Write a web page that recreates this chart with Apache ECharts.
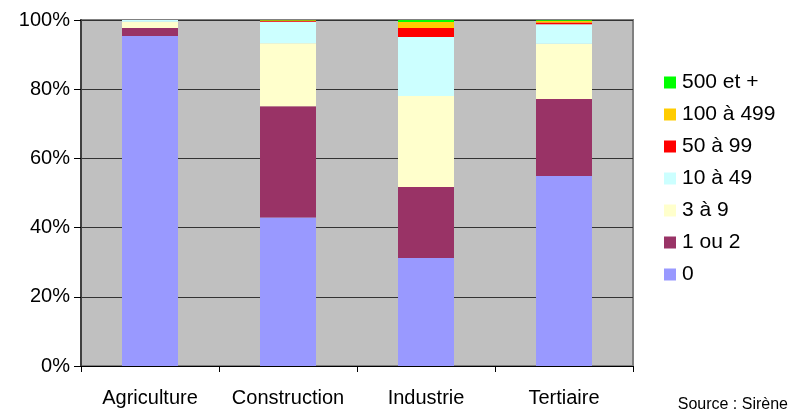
<!DOCTYPE html>
<html>
<head>
<meta charset="utf-8">
<script src="https://cdn.jsdelivr.net/npm/echarts@6/dist/echarts.min.js"></script>
<style>html,body{margin:0;padding:0;background:#fff;}#c{width:790px;height:410px;}</style>
</head>
<body>
<div id="c"></div>
<script>
const categories = ['Agriculture', 'Construction', 'Industrie', 'Tertiaire'];
const seriesNames = ['0', '1 ou 2', '3 à 9', '10 à 49', '50 à 99', '100 à 499', '500 et +'];
const s0      = [95.4, 42.9, 31.2, 54.9];
const s1ou2   = [2.3, 32.2, 20.5, 22.3];
const s3a9    = [1.8, 18.2, 26.3, 15.9];
const s10a49  = [0.5, 6.2, 17.1, 5.7];
const s50a99  = [0.0, 0.2, 2.6, 0.5];
const s100a499 = [0.0, 0.2, 1.7, 0.5];
const s500    = [0.0, 0.1, 0.6, 0.2];
const yTicks = [0, 20, 40, 60, 80, 100];
const colors = ['#9999FF', '#993366', '#FFFFCC', '#CCFFFF', '#FF0000', '#FFCC00', '#00FF00'];
const values = [s0, s1ou2, s3a9, s10a49, s50a99, s100a499, s500];

const font = 'Liberation Sans, Arial, sans-serif';
const chart = echarts.init(document.getElementById('c'));
chart.setOption({
  animation: false,
  backgroundColor: '#ffffff',
  grid: {
    left: 81, right: 157, top: 20, bottom: 44,
    show: true, backgroundColor: '#C0C0C0', borderColor: '#808080', borderWidth: 2
  },
  legend: {
    orient: 'vertical',
    left: 664, top: 72, padding: 0,
    itemWidth: 12, itemHeight: 12, itemGap: 11,
    icon: 'rect',
    data: seriesNames.slice().reverse(),
    textStyle: { fontFamily: font, fontSize: 21, color: '#000', padding: [0, 0, 0, 1] }
  },
  xAxis: {
    type: 'category',
    data: categories,
    axisLine: { lineStyle: { color: '#000', width: 1 } },
    axisTick: { show: true, length: 6, lineStyle: { color: '#000' } },
    axisLabel: { interval: 0, fontFamily: font, fontSize: 20, color: '#000', margin: 22 }
  },
  yAxis: {
    type: 'value',
    min: yTicks[0], max: yTicks[yTicks.length - 1], interval: 20,
    axisLine: { show: true, lineStyle: { color: '#404040', width: 2 } },
    axisTick: { show: true, length: 7, lineStyle: { color: '#000' } },
    axisLabel: { formatter: '{value}%', fontFamily: font, fontSize: 20, color: '#000', margin: 11 },
    splitLine: { show: true, lineStyle: { color: '#333', width: 1 } }
  },
  series: seriesNames.map((n, i) => ({
    name: n,
    type: 'bar',
    stack: 'total',
    barWidth: 56,
    data: values[i],
    itemStyle: { color: colors[i] }
  })),
  graphic: [{
    type: 'text', right: 2, top: 397,
    style: { text: 'Source : Sirène', fontFamily: font, fontSize: 16, fill: '#000' }
  }]
});
</script>
</body>
</html>
